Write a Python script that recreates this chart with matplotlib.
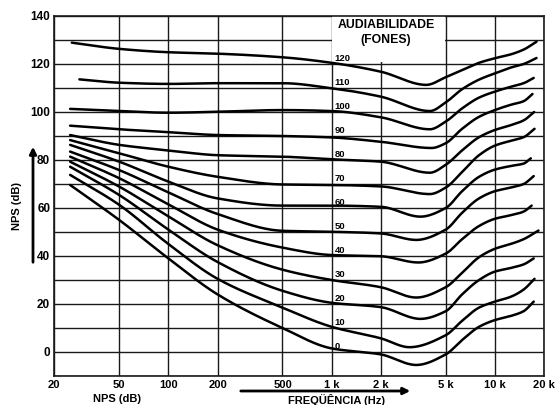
import numpy as np
import matplotlib
matplotlib.use("Agg")
import matplotlib.pyplot as plt
from matplotlib.patches import Rectangle

plt.rcParams['font.family'] = ['Liberation Sans', 'DejaVu Sans']

# ---- data: equal-loudness contours (phon) ----
phon_levels = [0, 10, 20, 30, 40, 50, 60, 70, 80, 90, 100, 110, 120]

f_0 = [25, 50, 100, 200, 500, 1000, 2000, 3300, 5000, 6300, 8000, 10000, 12500, 15000, 17300]
spl_0 = [69.6, 55, 39, 24, 10, 1.5, -1, -5.4, -1, 5, 10.5, 13.3, 15, 17, 21]

f_10 = [25, 50, 100, 200, 500, 1000, 2000, 3000, 5000, 6300, 8000, 10000, 12500, 15000, 17500]
spl_10 = [73.8, 61.3, 45, 30.5, 18.5, 10.5, 5.7, 2, 7, 13, 18.5, 21, 23, 26, 30.5]

f_20 = [25, 50, 100, 200, 500, 1000, 2000, 3500, 5000, 6300, 8000, 10000, 12500, 15000, 17300]
spl_20 = [77.2, 65.4, 51, 37.5, 25.5, 20.5, 18.7, 13.8, 17, 24, 30, 33.5, 35, 36.5, 39]

f_30 = [25, 50, 100, 200, 500, 1000, 2000, 3300, 5000, 6300, 8000, 10000, 12500, 15000, 18500]
spl_30 = [79.3, 68.9, 56.5, 44.5, 34.3, 30, 27, 22.7, 27, 33, 39.5, 43, 45, 47, 50.6]

f_40 = [25, 50, 100, 200, 500, 1000, 2000, 3400, 5000, 6300, 8000, 10000, 12500, 15000, 16800]
spl_40 = [81.4, 72.4, 61.5, 51, 43.5, 40.4, 39.9, 37.3, 41, 47, 52.5, 55.5, 57, 58.5, 61]

f_50 = [25, 50, 100, 200, 500, 1000, 2000, 3300, 5000, 6300, 8000, 10000, 12500, 15000, 17300]
spl_50 = [83.5, 75.8, 66.5, 57.5, 50.5, 50.1, 49.4, 46.7, 51, 58, 64, 67, 68.5, 70, 73.3]

f_60 = [25, 50, 100, 200, 500, 1000, 2000, 3500, 5000, 6300, 8000, 10000, 12500, 15000, 16600]
spl_60 = [86.3, 79.3, 71, 64, 61, 61, 60.5, 56.4, 60, 67, 73, 76, 77.5, 78.5, 80.7]

f_70 = [25, 50, 100, 200, 500, 1000, 2000, 4000, 5000, 6300, 8000, 10000, 12500, 15000, 17500]
spl_70 = [88.3, 82.8, 77.2, 73, 69.8, 69.6, 69, 65.8, 68.5, 75, 82, 86, 88, 89.5, 93]

f_80 = [25, 50, 100, 200, 500, 1000, 2000, 4000, 5000, 6300, 8000, 10000, 12500, 15000, 17400]
spl_80 = [90.4, 86.3, 84, 82, 81.4, 80.3, 79.3, 74.7, 78, 84, 89.5, 92.5, 94.5, 96.5, 100]

f_90 = [25, 50, 100, 200, 500, 1000, 2000, 4100, 5000, 6300, 8000, 10000, 12500, 15000, 17000]
spl_90 = [94.3, 92.8, 91.6, 90.4, 90, 89.4, 87.6, 85, 87, 93, 98, 100.8, 103, 104.5, 107.5]

f_100 = [25, 50, 100, 200, 500, 1000, 2000, 4000, 5000, 6300, 8000, 10000, 12500, 15000, 17300]
spl_100 = [101.3, 100.4, 99.7, 100.1, 100.8, 100.4, 97.8, 92.8, 96, 101.5, 106, 108.5, 110.5, 112, 114.2]

f_110 = [28.5, 50, 100, 200, 500, 1000, 2000, 4000, 5000, 6300, 8000, 10000, 12500, 15000, 18000]
spl_110 = [113.6, 112.2, 111.7, 112, 112, 109.9, 106.4, 100.4, 104, 109.5, 113.5, 116.1, 118.5, 120, 122.5]

f_120 = [25.6, 50, 100, 200, 500, 1000, 2000, 3800, 5000, 6300, 8000, 10000, 12500, 15000, 18000]
spl_120 = [128.9, 126.3, 124.9, 124.3, 122.8, 120.5, 116.8, 111.3, 114.5, 117.5, 120.5, 122.4, 124, 126, 129.3]

curve_freqs = [f_0, f_10, f_20, f_30, f_40, f_50, f_60, f_70, f_80, f_90, f_100, f_110, f_120]
curve_spls = [spl_0, spl_10, spl_20, spl_30, spl_40, spl_50, spl_60, spl_70, spl_80, spl_90, spl_100, spl_110, spl_120]

freq_ticks = [20, 50, 100, 200, 500, 1000, 2000, 5000, 10000, 20000]
freq_tick_labels = ['20', '50', '100', '200', '500', '1 k', '2 k', '5 k', '10 k', '20 k']
spl_ticks = list(range(-10, 141, 10))
spl_tick_labels = [str(v) if v % 20 == 0 and v >= 0 else '' for v in spl_ticks]


def pchip(x, y, xn):
    x = np.asarray(x, float); y = np.asarray(y, float)
    h = np.diff(x); d = np.diff(y) / h
    n = len(x); m = np.zeros(n)
    for k in range(1, n - 1):
        if d[k - 1] * d[k] <= 0:
            m[k] = 0.0
        else:
            w1 = 2 * h[k] + h[k - 1]; w2 = h[k] + 2 * h[k - 1]
            m[k] = (w1 + w2) / (w1 / d[k - 1] + w2 / d[k])
    m[0] = d[0]; m[-1] = d[-1]
    idx = np.clip(np.searchsorted(x, xn) - 1, 0, n - 2)
    t = (xn - x[idx]) / h[idx]
    h00 = 2 * t**3 - 3 * t**2 + 1; h10 = t**3 - 2 * t**2 + t
    h01 = -2 * t**3 + 3 * t**2; h11 = t**3 - t**2
    return h00 * y[idx] + h10 * h[idx] * m[idx] + h01 * y[idx + 1] + h11 * h[idx] * m[idx + 1]


W, H = 555, 405
fig = plt.figure(figsize=(W / 100, H / 100), dpi=100)
ax = fig.add_axes([54.3 / W, (H - 376) / H, (544 - 54.3) / W, (376 - 16) / H])
ax.set_xscale('log')
ax.set_xlim(20, 20000)
ax.set_ylim(-10, 140)

ax.set_xticks(freq_ticks)
ax.set_xticklabels(freq_tick_labels, fontsize=8, fontweight='bold')
ax.minorticks_off()
ax.set_yticks(spl_ticks)
ax.set_yticklabels(spl_tick_labels, fontsize=8.5, fontweight='bold')
ax.tick_params(length=0, pad=3)
ax.grid(True, color='#1a1a1a', lw=1.0, zorder=1)
ax.set_axisbelow(True)
for s in ax.spines.values():
    s.set_color('#1a1a1a'); s.set_linewidth(1.2)

# white legend box
ax.add_patch(Rectangle((1000 * 1.012, 121), 5000 / 1.012 - 1000 * 1.012, 20,
                       facecolor='white', edgecolor='none', zorder=2))
ax.text(2150, 136.2, 'AUDIABILIDADE', ha='center', va='center', fontsize=8.8,
        fontweight='bold', zorder=4)
ax.text(2150, 130.0, '(FONES)', ha='center', va='center', fontsize=8.8,
        fontweight='bold', zorder=4)

for phon, fs, ss in zip(phon_levels, curve_freqs, curve_spls):
    lx = np.log10(fs)
    xn = np.linspace(lx[0], lx[-1], 400)
    yn = pchip(lx, ss, xn)
    ax.plot(10**xn, yn, color='black', lw=1.8, zorder=3, solid_capstyle='round')
    ax.text(1040, phon + 2.3, str(phon), ha='left', va='center', fontsize=6.8,
            fontweight='bold', zorder=4)

# axis captions and arrows (figure pixel coords)
fig.text(17 / W, 1 - 206 / H, 'NPS (dB)', rotation=90, ha='center', va='center',
         fontsize=8, fontweight='bold')
fig.text(117 / W, 1 - 399 / H, 'NPS (dB)', ha='center', va='center',
         fontsize=8, fontweight='bold')
fig.text(337 / W, 1 - 399.5 / H, 'FREQÜÊNCIA (Hz)', ha='center', va='center',
         fontsize=8, fontweight='bold')
ax.annotate('', xy=(33, H - 144), xytext=(33, H - 265), xycoords='figure pixels',
            textcoords='figure pixels',
            arrowprops=dict(arrowstyle='-|>', lw=2, color='black', mutation_scale=10))
ax.annotate('', xy=(413, H - 391), xytext=(238, H - 391), xycoords='figure pixels',
            textcoords='figure pixels',
            arrowprops=dict(arrowstyle='-|>', lw=2, color='black', mutation_scale=10))

fig.savefig('out.png', dpi=100)
